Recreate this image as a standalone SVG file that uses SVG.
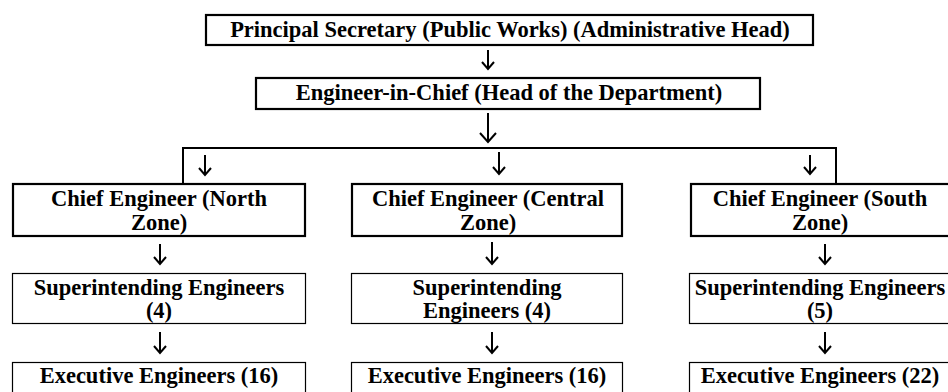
<svg xmlns="http://www.w3.org/2000/svg" width="948" height="392" viewBox="0 0 948 392">
<style>
.thick{fill:#fff;stroke:#000;stroke-width:2.2}
.thin{fill:#fff;stroke:#000;stroke-width:1.2}
text{font-weight:bold;font-size:22.5px;fill:#000;text-anchor:middle}
.c{fill:none;stroke:#000;stroke-width:2}
.a{fill:none;stroke:#000;stroke-width:2;stroke-linecap:butt;stroke-linejoin:miter}
</style>
<rect width="948" height="392" fill="#fff"/>
<g id="connectors">
<path class="c" d="M183 183V148H836V183"/>
<path class="a" d="M488 50V69M482 62L488 69L494 62"/>
<path class="a" d="M488 113V142M480 133L488 142L496 133"/>
<path class="a" d="M205 155V175M199 168L205 175L211 168"/>
<path class="a" d="M499 152V174M493 167L499 174L505 167"/>
<path class="a" d="M810 155V174M804 167L810 174L816 167"/>
<path class="a" d="M160 244V264M154 257L160 264L166 257"/>
<path class="a" d="M492 242V264M486 257L492 264L498 257"/>
<path class="a" d="M825 244V264M819 257L825 264L831 257"/>
<path class="a" d="M160 332V353M154 346L160 353L166 346"/>
<path class="a" d="M492 332V353M486 346L492 353L498 346"/>
<path class="a" d="M825 332V353M819 346L825 353L831 346"/>
</g>
<g font-family="Liberation Serif, Times New Roman, Tinos, serif">
<g id="principal-secretary">
<rect class="thick" x="206" y="15" width="607" height="30"/>
<text x="510" y="37">Principal Secretary (Public Works) (Administrative Head)</text>
</g>
<g id="engineer-in-chief">
<rect class="thick" x="256" y="78" width="504" height="31"/>
<text x="509" y="100">Engineer-in-Chief (Head of the Department)</text>
</g>
<g id="ce-north">
<rect class="thick" x="13" y="184" width="292" height="52"/>
<text x="159" y="206">Chief Engineer (North</text>
<text x="159" y="230">Zone)</text>
</g>
<g id="ce-central">
<rect class="thick" x="352" y="184" width="270" height="52"/>
<text x="488" y="206">Chief Engineer (Central</text>
<text x="488" y="230">Zone)</text>
</g>
<g id="ce-south">
<rect class="thick" x="691" y="184" width="270" height="52"/>
<text x="820" y="206">Chief Engineer (South</text>
<text x="820" y="230">Zone)</text>
</g>
<g id="se-north">
<rect class="thin" x="12.5" y="273.5" width="293" height="50"/>
<text x="159" y="295">Superintending Engineers</text>
<text x="159" y="318">(4)</text>
</g>
<g id="se-central">
<rect class="thin" x="351.5" y="273.5" width="271" height="50"/>
<text x="487" y="295">Superintending</text>
<text x="487" y="318">Engineers (4)</text>
</g>
<g id="se-south">
<rect class="thin" x="689.5" y="273.5" width="270" height="50"/>
<text x="820" y="295">Superintending Engineers</text>
<text x="820" y="318">(5)</text>
</g>
<g id="ee-north">
<rect class="thin" x="12.5" y="362.5" width="293" height="40"/>
<text x="159" y="383">Executive Engineers (16)</text>
</g>
<g id="ee-central">
<rect class="thin" x="351.5" y="362.5" width="271" height="40"/>
<text x="487" y="383">Executive Engineers (16)</text>
</g>
<g id="ee-south">
<rect class="thin" x="689.5" y="362.5" width="270" height="40"/>
<text x="820" y="383">Executive Engineers (22)</text>
</g>
</g>
</svg>
